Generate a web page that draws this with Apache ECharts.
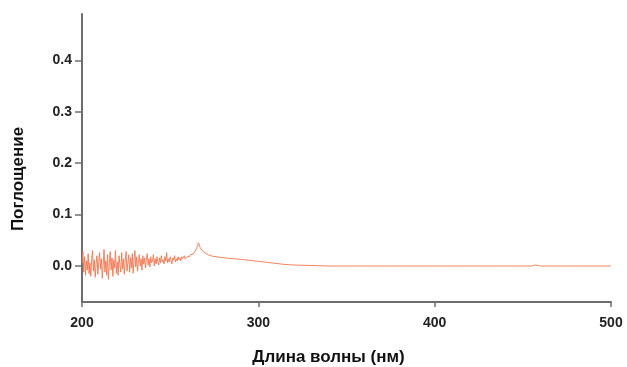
<!DOCTYPE html>
<html>
<head>
<meta charset="utf-8">
<script src="https://cdn.jsdelivr.net/npm/echarts@6/dist/echarts.min.js"></script>
<style>
  html, body { margin: 0; padding: 0; background: #fff; }
  #chart { width: 627px; height: 367px; }
</style>
</head>
<body>
<div id="chart"></div>
<script>
// noisy part of the spectrum, sampled every 0.5 nm starting at 200 nm
const noiseStart = 200
const noiseStep = 0.5
const noiseAbs = [
  0.005, 0.028, -0.012, 0.018, -0.018, 0.010, -0.008, 0.024, -0.015, 0.006,
  -0.020, 0.015, 0.030, -0.010, 0.012, -0.022, 0.004, 0.020, -0.016, 0.008,
  0.026, -0.006, 0.014, -0.024, 0.002, 0.032, -0.012, 0.010, -0.018, 0.022,
  -0.026, 0.006, 0.028, -0.008, 0.016, -0.020, 0.012, -0.004, 0.030, -0.014,
  0.008, -0.018, 0.020, 0.002, -0.012, 0.026, -0.006, 0.014, -0.016, 0.010,
  0.028, -0.010, 0.006, 0.022, -0.012, 0.016, -0.004, 0.024, -0.014, 0.012,
  0.030, -0.002, 0.018, -0.010, 0.008, 0.022, 0.000, 0.014, -0.008, 0.020,
  0.004, 0.016, -0.004, 0.012, 0.024, 0.002, 0.014, -0.002, 0.018, 0.006,
  0.010, 0.022, 0.000, 0.014, 0.004, 0.018, 0.008, 0.002, 0.016, 0.006,
  0.020, 0.008, 0.012, 0.004, 0.018, 0.010, 0.026, 0.006, 0.014, 0.008,
  0.018, 0.010, 0.004, 0.016, 0.012, 0.020, 0.008, 0.014, 0.010, 0.018,
  0.012, 0.016, 0.010, 0.018, 0.014, 0.012, 0.020, 0.014, 0.016, 0.018,
  0.015, 0.020, 0.018, 0.022, 0.020, 0.024, 0.023, 0.026, 0.028, 0.030,
  0.034
]

// peak and smooth tail
const tailWavelength = [265.5, 266, 266.5, 267, 268, 269, 270, 272, 274, 278, 283, 290, 295, 300, 305, 310, 315, 320, 330, 340, 360, 380, 400, 420, 440, 455, 457, 460, 480, 500]
const tailAbs = [0.040, 0.045, 0.041, 0.036, 0.031, 0.027, 0.024, 0.021, 0.019, 0.017, 0.015, 0.013, 0.011, 0.009, 0.007, 0.005, 0.003, 0.002, 0.001, 0.000, 0.000, 0.000, 0.000, 0.000, 0.000, 0.000, 0.002, 0.000, 0.000, 0.000]

const yTicks = [0, 0.1, 0.2, 0.3, 0.4]
const xTicks = [200, 300, 400, 500]

const points = noiseAbs.map((v, i) => [noiseStart + i * noiseStep, v])
  .concat(tailWavelength.map((w, i) => [w, tailAbs[i]]))

const chart = echarts.init(document.getElementById('chart'))
const axisColor = '#6e6e6e'
const labelStyle = {
  color: '#222',
  fontFamily: 'Arial',
  fontWeight: 'bold',
  fontSize: 14
}

chart.setOption({
  animation: false,
  grid: {
    left: 82,
    right: 16,
    top: 14,
    bottom: 65,
    outerBoundsMode: 'none'
  },
  xAxis: {
    type: 'value',
    min: xTicks[0],
    max: xTicks[xTicks.length - 1],
    interval: 100,
    name: 'Длина волны (нм)',
    nameLocation: 'middle',
    nameGap: 47,
    nameTextStyle: {
      color: '#111',
      fontFamily: 'Arial',
      fontWeight: 'bold',
      fontSize: 17,
      padding: [0, 36, 0, 0]
    },
    axisLine: { onZero: false, lineStyle: { color: axisColor, width: 2 } },
    axisTick: { length: 5, lineStyle: { color: axisColor, width: 1.5 } },
    axisLabel: { ...labelStyle, margin: 14 },
    splitLine: { show: false }
  },
  yAxis: {
    type: 'value',
    min: -0.07,
    max: 0.49,
    name: 'Поглощение',
    nameLocation: 'middle',
    nameGap: 55,
    nameRotate: 90,
    nameTextStyle: {
      color: '#111',
      fontFamily: 'Arial',
      fontWeight: 'bold',
      fontSize: 17,
      padding: [0, 0, 0, -42]
    },
    axisLine: { onZero: false, lineStyle: { color: axisColor, width: 2 } },
    axisTick: { customValues: yTicks, length: 7, lineStyle: { color: axisColor, width: 1.5 } },
    axisLabel: {
      ...labelStyle,
      customValues: yTicks,
      margin: 10,
      formatter: v => v.toFixed(1)
    },
    splitLine: { show: false }
  },
  series: [
    {
      type: 'line',
      data: points,
      showSymbol: false,
      lineStyle: { color: '#f2764f', width: 0.9 },
      itemStyle: { color: '#f2764f' }
    }
  ]
})
</script>
</body>
</html>
